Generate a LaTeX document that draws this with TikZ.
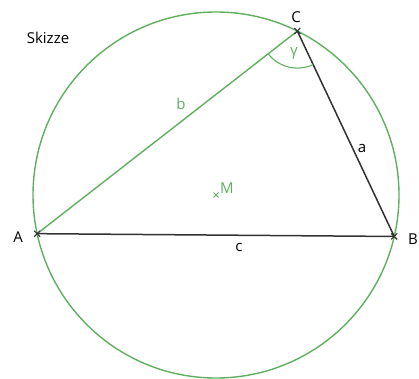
\documentclass[tikz,border=0pt]{standalone}
\usepackage{fontspec}
\setmainfont{Open Sans}
\definecolor{skgreen}{RGB}{95,175,95}
\definecolor{skgray}{RGB}{50,50,50}

\begin{document}
\begin{tikzpicture}[x=1pt,y=1pt,
	grn/.style={skgreen,line width=1.4pt},
	side/.style={skgray,line width=1.5pt},
	lab/.style={font=\fontsize{15}{17}\selectfont,inner sep=0pt}]
	
	\useasboundingbox (0,0) rectangle (419,378);
	
	%--- circumcircle ---
	\coordinate (M) at (216,183);
	\draw[grn] (M) circle (183);
	
	% corners on the circle
	\coordinate (A) at ([shift={(216,183)}]192.2:183);
	\coordinate (B) at ([shift={(216,183)}]-13.1:183);
	\coordinate (C) at ([shift={(216,183)}]63.6:183);
	
	% sides: b green, a and c dark
	\draw[grn]  (A) -- (C);
	\draw[side] (C) -- (B);
	\draw[side] (A) -- (B);
	
	% angle gamma at C
	\draw[grn,line width=1.1pt] (C) ++(217.9:37) arc[start angle=217.9, end angle=295.2, radius=37];
	
	%--- crosses ---
	\foreach \p in {A,B,C}{
		\draw[skgray,line width=1.1pt] (\p) +(-3,-3) -- +(3,3) +(-3,3) -- +(3,-3);
	}
	\draw[skgreen,line width=0.9pt] (M) +(-2.5,-2.5) -- +(2.5,2.5) +(-2.5,2.5) -- +(2.5,-2.5);
	
	%--- labels ---
	\node[lab] (Alab) at (18,141) {A};
	\node[lab] (Blab) at (413,139) {B};
	\node[lab] (Clab) at (296,361) {C};
	\node[lab,skgreen] (Mlab) at (227,190) {M};
	\node[lab,skgreen] (glab) at (294,325) {γ};
	\node[lab,skgreen] (blab) at (181,274) {b};
	\node[lab] (alab) at (362,230) {a};
	\node[lab] (clab) at (239,131) {c};
	\node[lab] (title) at (48,340) {Skizze};
	
\end{tikzpicture}
\end{document}
